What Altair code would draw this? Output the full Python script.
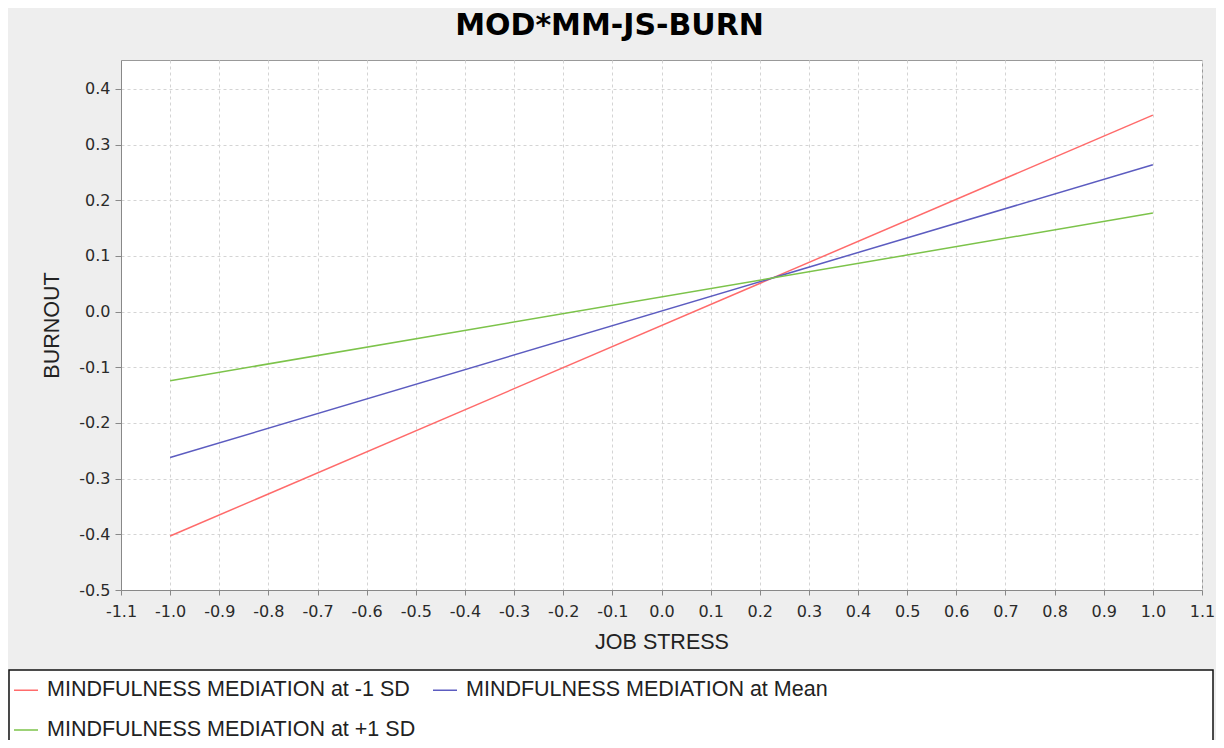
import altair as alt
import pandas as pd

# ---- data ----
job_stress = [-1.0, 1.0]
series_names = [
    "MINDFULNESS MEDIATION at -1 SD",
    "MINDFULNESS MEDIATION at Mean",
    "MINDFULNESS MEDIATION at +1 SD",
]
burnout_low = [-0.403, 0.353]
burnout_mean = [-0.262, 0.264]
burnout_high = [-0.124, 0.177]
series_colors = ["#ff6b6b", "#5c5cc0", "#7cc34a"]

x_ticks = [round(-1.1 + 0.1 * i, 1) for i in range(23)]
y_ticks = [round(-0.5 + 0.1 * i, 1) for i in range(10)]

rows = []
for name, vals in zip(series_names, [burnout_low, burnout_mean, burnout_high]):
    for xv, yv in zip(job_stress, vals):
        rows.append({"series": name, "job_stress": xv, "burnout": yv})
df = pd.DataFrame(rows)

label_expr = "(datum.value < -0.00001 ? '-' : '') + format(abs(datum.value), '.1f')"

lines = alt.Chart(df).mark_line(strokeWidth=1.5, clip=True).encode(
    x=alt.X(
        "job_stress:Q",
        title="JOB STRESS",
        scale=alt.Scale(domain=[-1.1, 1.1], nice=False, zero=False),
        axis=alt.Axis(values=x_ticks, labelExpr=label_expr, tickSize=5, labelPadding=8,
                      titlePadding=12, labelFlush=False),
    ),
    y=alt.Y(
        "burnout:Q",
        title="BURNOUT",
        scale=alt.Scale(domain=[-0.5, 0.452], nice=False, zero=False),
        axis=alt.Axis(values=y_ticks, labelExpr=label_expr, tickSize=6, labelPadding=5,
                      titlePadding=15, labelFlush=False),
    ),
    color=alt.Color(
        "series:N",
        title=None,
        scale=alt.Scale(domain=series_names, range=series_colors),
        legend=alt.Legend(
            orient="none", legendX=-108, legendY=617, columns=2, direction="horizontal",
            symbolType="stroke", symbolSize=576, symbolStrokeWidth=1.5,
            labelFont="Liberation Sans", labelFontSize=21.5, labelColor="#222",
            columnPadding=14, rowPadding=16, labelOffset=8, padding=0,
            labelLimit=700,
        ),
    ),
    detail="series:N",
)

box = alt.Chart(pd.DataFrame({"k": [0]})).mark_rect(
    fill="white", stroke="#111", strokeWidth=1.5
).encode(
    x=alt.value(-112), x2=alt.value(1092), y=alt.value(610), y2=alt.value(720)
)

chart = alt.layer(box, lines).properties(
    width=1081,
    height=530,
    autosize=alt.AutoSizeParams(type="none"),
    padding={"left": 113, "top": 52, "right": 14, "bottom": 150},
    background="#eeeeee",
    title=alt.TitleParams(
        "MOD*MM-JS-BURN", font="DejaVu Sans", fontSize=30, fontWeight="bold",
        color="#000", anchor="middle", dx=-52, offset=-5, baseline="alphabetic",
    ),
).configure_view(
    fill="white", stroke="#999", strokeWidth=1
).configure_axis(
    labelFont="DejaVu Sans", labelFontSize=16, labelColor="#2a2a2a",
    titleFont="Liberation Sans", titleFontSize=21.5, titleFontWeight="normal",
    titleColor="#222", gridColor="#d4d4d4", gridDash=[3, 3], tickColor="#888",
    domainColor="#888",
)

chart.save("out.html", embed_options={"renderer": "svg", "actions": False})
